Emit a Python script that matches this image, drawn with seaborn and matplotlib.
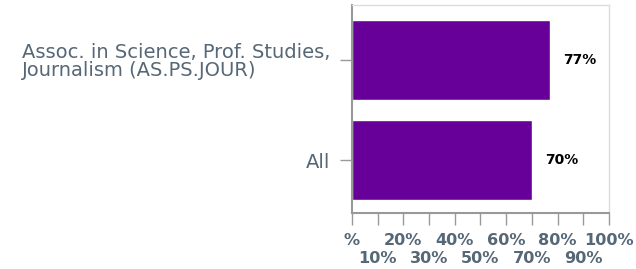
import matplotlib
matplotlib.use("Agg")
import matplotlib.pyplot as plt
import seaborn as sns
import pandas as pd

categories = ["Assoc. in Science, Prof. Studies,\nJournalism (AS.PS.JOUR)", "All"]
values = [77, 70]
value_labels = ["77%", "70%"]
major_ticks = [0, 20, 40, 60, 80, 100]
major_labels = ["%", "20%", "40%", "60%", "80%", "100%"]
minor_ticks = [10, 30, 50, 70, 90]
minor_labels = ["10%", "30%", "50%", "70%", "90%"]

df = pd.DataFrame({"category": categories, "value": values})

sns.set_style("white")
plt.rcParams["font.family"] = ["DejaVu Sans"]

fig = plt.figure(figsize=(6.36, 2.69), dpi=100)
ax = fig.add_axes([0.5535, 0.208, 0.404, 0.773])

sns.barplot(data=df, x="value", y="category", orient="h", color="#660099",
            saturation=1, width=0.8, ax=ax)

ax.set_xlim(0, 100)
ax.set_ylim(1.53, -0.55)
ax.set_xlabel("")
ax.set_ylabel("")

for i, (v, lab) in enumerate(zip(values, value_labels)):
    ax.text(v + 5.3, i, lab, ha="left", va="center", fontsize=10,
            fontweight="bold", color="black")

label_color = "#566776"
tick_color = "#999999"
ax.set_xticks(major_ticks)
ax.set_xticklabels(major_labels, fontsize=11.6, fontweight="bold", color=label_color)
ax.set_xticks(minor_ticks, minor=True)
ax.set_xticklabels(minor_labels, minor=True, fontsize=11.6, fontweight="bold",
                   color=label_color)
ax.tick_params(axis="x", which="major", direction="out", length=8.5, width=1,
               color=tick_color, pad=6, bottom=True)
ax.tick_params(axis="x", which="minor", direction="out", length=8.5, width=1,
               color=tick_color, pad=18.5, bottom=True)
ax.tick_params(axis="y", direction="out", length=8.5, width=1, color=tick_color,
               pad=7, left=True)
for lbl in ax.get_yticklabels():
    lbl.set_fontsize(14)
    lbl.set_color(label_color)
    lbl.set_linespacing(0.95)
    lbl.set_multialignment("left")

for side in ["left", "bottom"]:
    ax.spines[side].set_color(tick_color)
    ax.spines[side].set_linewidth(1.5)
for side in ["top", "right"]:
    ax.spines[side].set_color("#dddddd")
    ax.spines[side].set_linewidth(1)

fig.savefig("out.png", dpi=100)
